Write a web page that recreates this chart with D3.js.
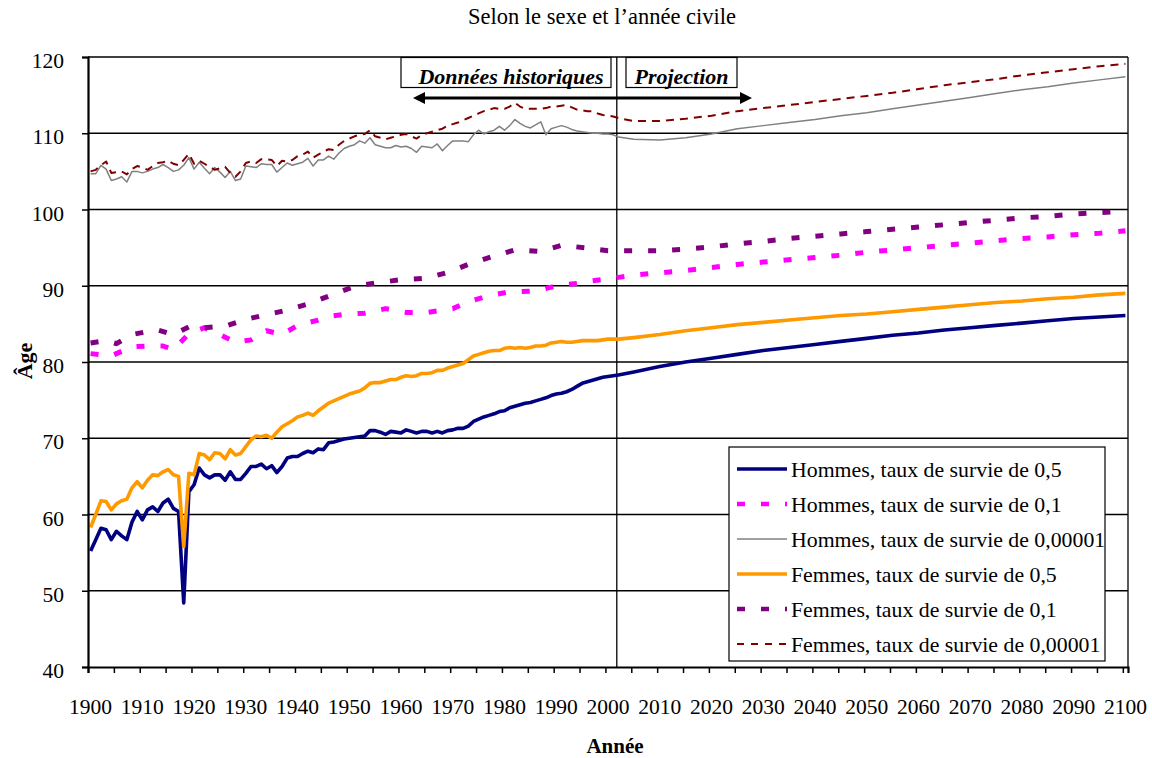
<!DOCTYPE html>
<html>
<head>
<meta charset="utf-8">
<script src="https://cdn.jsdelivr.net/npm/d3@7"></script>
<style>
  body { margin: 0; background: #fff; }
  text { font-family: "Liberation Serif", "Times New Roman", serif; fill: #000; }
</style>
</head>
<body>
<div id="chart"></div>
<script>
var svgWidth = 1152;
var svgHeight = 758;

// plot area in pixels
var plot = { left: 88, right: 1128, top: 57, bottom: 667 };

// ---- data ----
var histYears = d3.range(1900, 2002);
var projYears = [2002, 2005, 2010, 2015, 2020, 2025, 2030, 2035, 2040, 2045, 2050,
                 2055, 2060, 2065, 2070, 2075, 2080, 2085, 2090, 2095, 2100];

var hommes05Hist = [
  55.2, 56.7, 58.2, 58.0, 56.7, 57.8, 57.2, 56.7, 59.0, 60.4,
  59.3, 60.6, 61.0, 60.4, 61.5, 62.0, 60.8, 60.4, 48.4, 63.0,
  63.9, 66.1, 65.2, 64.8, 65.2, 65.2, 64.5, 65.6, 64.6, 64.6,
  65.4, 66.3, 66.3, 66.6, 66.0, 66.4, 65.5, 66.3, 67.4, 67.6,
  67.6, 68.0, 68.3, 68.1, 68.6, 68.5, 69.4, 69.5, 69.7, 69.9,
  70.0, 70.1, 70.2, 70.3, 71.0, 71.0, 70.8, 70.5, 70.9, 70.8,
  70.7, 71.1, 70.9, 70.7, 70.9, 70.9, 70.7, 70.9, 70.7, 71.0,
  71.1, 71.3, 71.3, 71.6, 72.2, 72.5, 72.8, 73.0, 73.2, 73.5,
  73.6, 74.0, 74.2, 74.4, 74.6, 74.7, 74.9, 75.1, 75.3, 75.6,
  75.8, 75.9, 76.1, 76.4, 76.8, 77.2, 77.4, 77.6, 77.8, 78.0,
  78.1, 78.2];
var hommes05Proj = [78.3, 78.7, 79.4, 80.0, 80.5, 81.0, 81.5, 81.9, 82.3, 82.7, 83.1,
                    83.5, 83.8, 84.2, 84.5, 84.8, 85.1, 85.4, 85.7, 85.9, 86.1];

var femmes05Hist = [
  58.3, 60.0, 61.8, 61.7, 60.6, 61.4, 61.8, 62.0, 63.5, 64.3,
  63.5, 64.5, 65.2, 65.1, 65.6, 65.9, 65.2, 65.0, 55.8, 65.4,
  65.2, 68.0, 67.8, 67.2, 68.1, 68.0, 67.3, 68.5, 67.8, 68.0,
  68.9, 69.8, 70.3, 70.2, 70.4, 70.0, 70.8, 71.5, 71.9, 72.3,
  72.8, 73.0, 73.3, 73.0, 73.6, 74.1, 74.6, 74.9, 75.2, 75.5,
  75.8, 76.0, 76.2, 76.6, 77.2, 77.3, 77.3, 77.5, 77.7, 77.7,
  78.0, 78.2, 78.1, 78.2, 78.5, 78.5, 78.6, 78.9, 78.9, 79.2,
  79.4, 79.6, 79.8, 80.3, 80.8, 81.0, 81.2, 81.4, 81.5, 81.5,
  81.8, 81.9, 81.8, 81.9, 81.8, 81.9, 82.1, 82.1, 82.2, 82.5,
  82.6, 82.7, 82.6, 82.6, 82.7, 82.8, 82.8, 82.8, 82.8, 82.9,
  83.0, 83.0];
var femmes05Proj = [83.0, 83.2, 83.6, 84.1, 84.5, 84.9, 85.2, 85.5, 85.8, 86.1, 86.3,
                    86.6, 86.9, 87.2, 87.5, 87.8, 88.0, 88.3, 88.5, 88.8, 89.0];

var hommes01HistYears = [1900, 1904, 1908, 1911, 1914, 1916, 1919, 1922, 1925, 1928,
                         1931, 1934, 1937, 1940, 1944, 1946, 1950, 1953, 1957, 1961,
                         1965, 1970, 1973, 1977, 1981, 1986, 1990, 1994, 1997, 2000];
var hommes01Hist = [81.1, 80.8, 82.0, 82.1, 82.1, 81.6, 83.7, 84.5, 83.6, 82.6,
                    82.9, 84.1, 83.6, 84.8, 85.5, 86.0, 86.3, 86.4, 87.0, 86.5,
                    86.5, 87.0, 87.9, 88.7, 89.2, 89.3, 90.0, 90.3, 90.65, 90.9];
var hommes01Proj = [91.1, 91.4, 91.7, 92.0, 92.4, 92.8, 93.1, 93.4, 93.7, 94.0, 94.4,
                    94.7, 95.0, 95.3, 95.6, 95.9, 96.2, 96.4, 96.7, 96.9, 97.2];

var femmes01HistYears = [1900, 1903, 1905, 1908, 1911, 1913, 1916, 1919, 1922, 1926,
                         1930, 1934, 1938, 1942, 1947, 1951, 1955, 1960, 1965, 1969,
                         1973, 1978, 1982, 1987, 1991, 1996, 2000];
var femmes01Hist = [82.5, 82.8, 82.4, 83.6, 84.0, 84.2, 83.6, 84.6, 84.5, 84.7,
                    85.6, 86.2, 86.8, 87.6, 88.9, 89.9, 90.35, 90.8, 91.0, 91.75,
                    92.8, 93.9, 94.7, 94.5, 95.3, 94.95, 94.6];
var femmes01Proj = [94.6, 94.6, 94.6, 94.8, 95.1, 95.5, 95.8, 96.2, 96.5, 96.8, 97.1,
                    97.4, 97.7, 98.0, 98.3, 98.6, 98.9, 99.1, 99.4, 99.6, 99.8];

var hommesMaxHist = [
  104.7, 104.7, 105.8, 105.3, 103.8, 104.0, 104.3, 103.6, 105.0, 105.0,
  104.8, 105.0, 105.3, 105.5, 105.9, 105.5, 105.0, 105.2, 105.8, 106.8,
  105.3, 106.2, 105.4, 104.7, 105.5, 104.9, 104.2, 105.0, 103.8, 104.0,
  105.7, 105.6, 105.5, 106.0, 105.9, 105.9, 104.9, 105.5, 106.1, 105.8,
  106.0, 106.2, 106.7, 105.7, 106.5, 106.5, 107.0, 106.6, 107.4, 108.0,
  108.3, 108.5, 109.0, 108.7, 109.4, 108.5, 108.3, 108.1, 108.1, 108.4,
  108.2, 108.3, 108.0, 107.5, 108.3, 108.2, 108.1, 108.6, 107.7, 108.4,
  109.0, 109.0, 109.0, 108.9, 109.8, 110.4, 109.9, 110.2, 110.4, 110.9,
  110.4, 111.0, 111.8, 111.3, 110.9, 110.7, 111.1, 111.5, 109.8, 110.6,
  110.8, 111.0, 110.8, 110.5, 110.3, 110.2, 110.1, 110.0, 110.0, 109.9,
  109.9, 109.8];
var hommesMaxProj = [109.5, 109.2, 109.1, 109.4, 109.9, 110.6, 111.0, 111.4, 111.8, 112.3, 112.7,
                     113.2, 113.7, 114.2, 114.7, 115.2, 115.7, 116.1, 116.6, 117.0, 117.4];

var femmesMaxHist = [
  105.0, 105.2, 105.8, 106.3, 104.8, 104.9, 105.0, 104.6, 105.3, 105.7,
  105.5, 105.2, 105.7, 106.1, 106.2, 106.4, 106.0, 105.8, 106.5, 107.3,
  106.0, 106.4, 106.0, 105.6, 105.2, 105.4, 105.6, 104.8, 104.3, 105.0,
  106.1, 106.3, 106.1, 106.6, 106.6, 106.5, 105.7, 106.4, 106.3, 106.5,
  107.0, 107.2, 107.6, 106.8, 107.2, 107.6, 107.9, 107.8, 108.5, 109.0,
  109.3, 109.6, 109.8, 109.9, 110.4, 109.6, 109.4, 109.2, 109.4, 109.6,
  109.8, 109.9, 109.6, 109.3, 109.8, 110.0, 110.2, 110.4, 110.6, 111.0,
  111.2, 111.4, 111.7, 112.0, 112.3, 112.6, 112.9, 113.1, 113.3, 113.2,
  113.2, 113.5, 114.0, 113.5, 113.2, 113.2, 113.2, 113.2, 113.3, 113.5,
  113.5, 113.6, 113.7, 113.4, 113.1, 113.0, 112.9, 112.9, 112.6, 112.4,
  112.3, 112.2];
var femmesMaxProj = [112.0, 111.6, 111.6, 111.9, 112.3, 112.9, 113.3, 113.7, 114.1, 114.5, 114.9,
                     115.3, 115.8, 116.3, 116.7, 117.1, 117.6, 118.0, 118.4, 118.8, 119.1];

var yTicks = [40, 50, 60, 70, 80, 90, 100, 110, 120];
var xLabelYears = d3.range(1900, 2101, 10);
var xTickYears = d3.range(1900, 2101, 5);

function pairs(years, values) {
  return years.map(function(y, i) { return { year: y, value: values[i] }; });
}

// series in Excel draw order
var series = [
  { name: "Hommes, taux de survie de 0,5", color: "#000080", width: 3.6, dash: null,
    data: pairs(histYears.concat(projYears), hommes05Hist.concat(hommes05Proj)) },
  { name: "Hommes, taux de survie de 0,1", color: "#ff00ff", width: 5, dash: "8,16",
    data: pairs(hommes01HistYears.concat(projYears), hommes01Hist.concat(hommes01Proj)) },
  { name: "Hommes, taux de survie de 0,00001", color: "#808080", width: 1.5, dash: null,
    data: pairs(histYears.concat(projYears), hommesMaxHist.concat(hommesMaxProj)) },
  { name: "Femmes, taux de survie de 0,5", color: "#ff9900", width: 3.6, dash: null,
    data: pairs(histYears.concat(projYears), femmes05Hist.concat(femmes05Proj)) },
  { name: "Femmes, taux de survie de 0,1", color: "#800080", width: 5, dash: "8,16",
    data: pairs(femmes01HistYears.concat(projYears), femmes01Hist.concat(femmes01Proj)) },
  { name: "Femmes, taux de survie de 0,00001", color: "#800000", width: 2, dash: "8,6",
    data: pairs(histYears.concat(projYears), femmesMaxHist.concat(femmesMaxProj)) }
];

// ---- scales ----
// category axis: each year occupies one slot, points sit in the middle of the slot
var xScale = d3.scaleLinear().domain([1900, 2101]).range([plot.left, plot.right]);
var yScale = d3.scaleLinear().domain([40, 120]).range([plot.bottom, plot.top]);

var svg = d3.select("#chart").append("svg")
  .attr("width", svgWidth)
  .attr("height", svgHeight);

// gridlines
svg.append("g").selectAll("line")
  .data(yTicks.slice(1))
  .enter().append("line")
  .attr("x1", plot.left).attr("x2", plot.right)
  .attr("y1", d => yScale(d)).attr("y2", d => yScale(d))
  .attr("stroke", "#000").attr("stroke-width", 1.3);

// right border of plot area
svg.append("line")
  .attr("x1", plot.right).attr("x2", plot.right)
  .attr("y1", plot.top).attr("y2", plot.bottom)
  .attr("stroke", "#000").attr("stroke-width", 1.3);

// vertical line separating history and projection
svg.append("line")
  .attr("x1", xScale(2002.2)).attr("x2", xScale(2002.2))
  .attr("y1", plot.top).attr("y2", plot.bottom)
  .attr("stroke", "#000").attr("stroke-width", 1.3);

// series lines
var line = d3.line()
  .x(d => xScale(d.year + 0.5))
  .y(d => yScale(d.value));

svg.append("g").selectAll("path")
  .data(series)
  .enter().append("path")
  .attr("d", d => line(d.data))
  .attr("fill", "none")
  .attr("stroke", d => d.color)
  .attr("stroke-width", d => d.width)
  .attr("stroke-dasharray", d => d.dash)
  .attr("stroke-linejoin", "round");

// axes
var leftAxis = d3.axisLeft(yScale).tickValues(yTicks).tickSize(6).tickFormat("");
svg.append("g")
  .attr("transform", `translate(${plot.left},0)`)
  .call(leftAxis)
  .call(g => g.select(".domain").attr("stroke-width", 2.2))
  .call(g => g.selectAll(".tick line").attr("stroke-width", 1.5));

var bottomAxis = d3.axisBottom(xScale).tickValues(xTickYears).tickSize(6).tickFormat("");
svg.append("g")
  .attr("transform", `translate(0,${plot.bottom})`)
  .call(bottomAxis)
  .call(g => g.select(".domain").attr("stroke-width", 2.2))
  .call(g => g.selectAll(".tick line").attr("stroke-width", 1.5));

// tick labels
svg.append("g").selectAll("text")
  .data(yTicks)
  .enter().append("text")
  .attr("x", 64)
  .attr("y", d => yScale(d) + 11)
  .attr("text-anchor", "end")
  .style("font-size", "21.5px")
  .text(d => d);

svg.append("g").selectAll("text")
  .data(xLabelYears)
  .enter().append("text")
  .attr("x", d => xScale(d + 0.5))
  .attr("y", 714)
  .attr("text-anchor", "middle")
  .style("font-size", "21.5px")
  .text(d => d);

// titles
svg.append("text")
  .attr("x", 602).attr("y", 24)
  .attr("text-anchor", "middle")
  .style("font-size", "22.5px")
  .text("Selon le sexe et l\u2019ann\u00e9e civile");

svg.append("text")
  .attr("x", 615).attr("y", 753)
  .attr("text-anchor", "middle")
  .style("font-size", "21px").style("font-weight", "bold")
  .text("Ann\u00e9e");

svg.append("text")
  .attr("transform", "translate(32,361) rotate(-90)")
  .attr("text-anchor", "middle")
  .style("font-size", "22px").style("font-weight", "bold")
  .text("\u00c2ge");

// annotation boxes and arrow
var notes = [
  { label: "Donn\u00e9es historiques", x0: 401, x1: 611 },
  { label: "Projection", x0: 626, x1: 737 }
];
var noteG = svg.append("g");
noteG.selectAll("rect")
  .data(notes)
  .enter().append("rect")
  .attr("x", d => d.x0).attr("y", 57.5)
  .attr("width", d => d.x1 - d.x0).attr("height", 30)
  .attr("fill", "#fff").attr("stroke", "#000").attr("stroke-width", 1.2);
noteG.selectAll("text")
  .data(notes)
  .enter().append("text")
  .attr("x", d => (d.x0 + d.x1) / 2 + (d.label === "Projection" ? 0 : 5))
  .attr("y", 84)
  .attr("text-anchor", "middle")
  .style("font-size", "22px").style("font-weight", "bold").style("font-style", "italic")
  .text(d => d.label);

var arrowY = 98;
svg.append("line")
  .attr("x1", 420).attr("x2", 744)
  .attr("y1", arrowY).attr("y2", arrowY)
  .attr("stroke", "#000").attr("stroke-width", 3);
svg.append("path")
  .attr("d", `M413,${arrowY} L425,${arrowY - 6} L425,${arrowY + 6} Z`)
  .attr("fill", "#000");
svg.append("path")
  .attr("d", `M752,${arrowY} L740,${arrowY - 6} L740,${arrowY + 6} Z`)
  .attr("fill", "#000");

// legend
var legend = svg.append("g").attr("transform", "translate(729,447)");
legend.append("rect")
  .attr("width", 376).attr("height", 214)
  .attr("fill", "#fff").attr("stroke", "#000").attr("stroke-width", 1.2);

var items = legend.selectAll(".item")
  .data(series)
  .enter().append("g")
  .attr("class", "item")
  .attr("transform", (d, i) => `translate(0,${22 + i * 35})`);

items.append("line")
  .attr("x1", 8).attr("x2", 58)
  .attr("stroke", d => d.color)
  .attr("stroke-width", d => Math.min(d.width, 4.5))
  .attr("stroke-dasharray", d => d.dash === "8,6" ? "7,7" : d.dash);

items.append("text")
  .attr("x", 62).attr("y", 8)
  .style("font-size", "21.8px")
  .text(d => d.name);
</script>
</body>
</html>
